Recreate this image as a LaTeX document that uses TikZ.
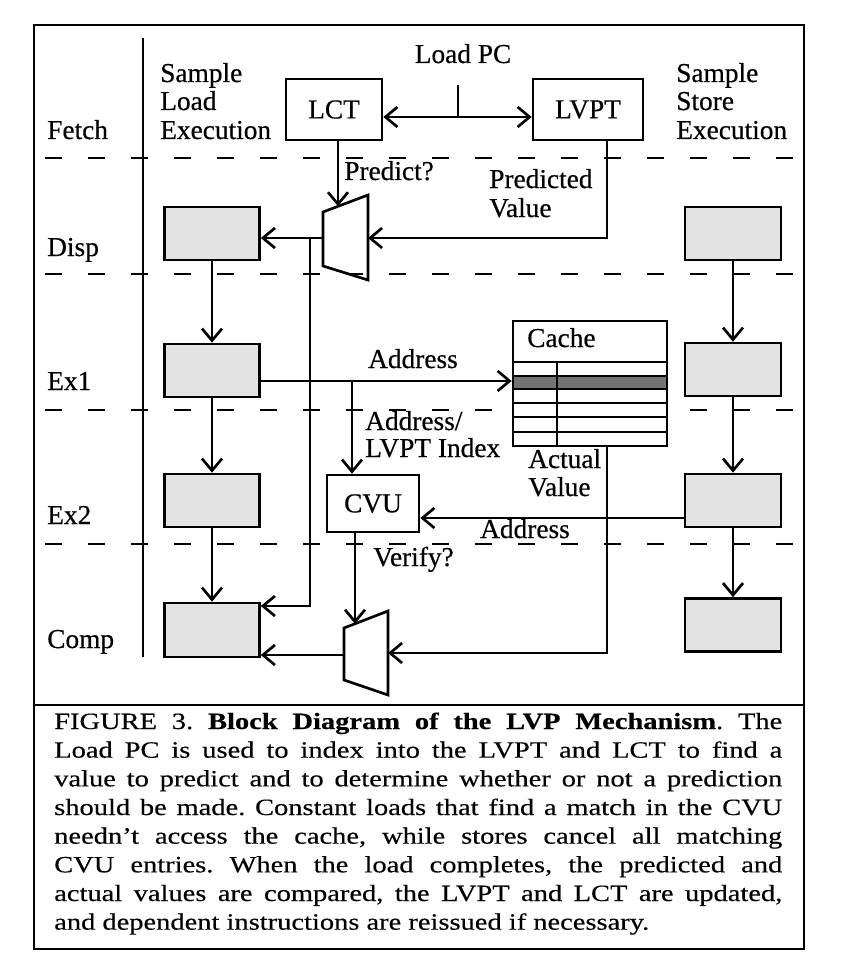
\documentclass[tikz,border=0pt]{standalone}
\usepackage{fontspec}
\setmainfont{Liberation Serif}[FakeBold=0.5]
\newfontfamily\capfont{Liberation Serif}[FakeStretch=1.22,FakeBold=0.4]
\usetikzlibrary{arrows.meta}

\newcommand\lblsize{\fontsize{20.5pt}{24pt}\selectfont}

\tikzset{
  wire/.style={line width=2pt, line join=miter},
  arr/.style={wire, -{Straight Barb[length=9pt,width=15pt]}},
  darr/.style={wire, {Straight Barb[length=9pt,width=15pt]}-{Straight Barb[length=9pt,width=15pt]}},
  lbl/.style={font=\lblsize, inner sep=0pt, anchor=base west},
  stage/.style={draw, line width=2pt, fill=black!11, minimum height=39.75pt, inner sep=0pt},
  ldbox/.style={stage, minimum width=71.25pt},
  stbox/.style={stage, minimum width=72pt},
  unit/.style={draw, line width=2pt, fill=white, font=\lblsize, inner sep=0pt},
  pipeline/.style={line width=1.5pt, dash pattern=on 12.75pt off 19.5pt},
  frame/.style={line width=1.6pt},
  cacherow/.style={line width=1.6pt},
}

\begin{document}
\begin{tikzpicture}[x=0.75pt,y=-0.75pt]
\fill[white] (0,0) rectangle (844,963);
\useasboundingbox (0,0) rectangle (844,963);

% outer frame and caption rule
\draw[frame] (34,25) rectangle (804,949);
\draw[frame] (34,705) -- (804,705);

% pipeline stage boundaries and label column
\foreach \yy in {158,274,410,544} \draw[pipeline] (45,\yy) -- (795,\yy);
\draw[wire] (143,38) -- (143,657);

% stage names
\node[lbl] (fetch) at (47,139) {Fetch};
\node[lbl] (disp)  at (47,256) {Disp};
\node[lbl] (exa)   at (47,390) {Ex1};
\node[lbl] (exb)   at (47,524) {Ex2};
\node[lbl] (comp)  at (47,648) {Comp};

% column headings
\node[lbl] (sl1) at (160,82)  {Sample};
\node[lbl] (sl2) at (160,110) {Load};
\node[lbl] (sl3) at (160,139) {Execution};
\node[lbl] (ss1) at (676,82)  {Sample};
\node[lbl] (ss2) at (676,110) {Store};
\node[lbl] (ss3) at (676,139) {Execution};

% prediction tables indexed by the load PC
\node[unit, minimum width=72pt, minimum height=45.75pt] (lct) at (334,109.5) {LCT};
\node[unit, minimum width=82.5pt, minimum height=45.75pt] (lvpt) at (588,109.5) {LVPT};
\node[lbl, anchor=base] (loadpc) at (463,63) {Load PC};
\coordinate (pc) at (458,85);
\coordinate (pcj) at (458,117);
\draw[wire] (pc) -- (pcj);
\draw[darr] (lct.east |- pcj) -- (lvpt.west |- pcj);

% prediction multiplexer
\coordinate (m1a) at (323,212);
\coordinate (m1b) at (368,195);
\coordinate (m1c) at (368,280);
\coordinate (m1d) at (323,266);
\draw[wire] (m1a) -- (m1b) -- (m1c) -- (m1d) -- cycle;
\coordinate (m1sel) at (338,206.3);
\coordinate (m1in) at (368,238);
\coordinate (m1out) at (323,238);
\coordinate (pvx) at (607,238);
\draw[arr] (lct.south -| m1sel) -- (m1sel);
\draw[arr] (lvpt.south -| pvx) -- (pvx) -- (m1in);
\node[lbl] (predq) at (344,180) {Predict?};
\node[lbl] (pv1) at (489,188) {Predicted};
\node[lbl] (pv2) at (489,217) {Value};

% load pipeline
\node[ldbox] (ld1) at (212,233.5) {};
\node[ldbox] (ld2) at (212,370.5) {};
\node[ldbox] (ld3) at (212,500.5) {};
\node[ldbox, minimum height=40.5pt] (ld4) at (212,630) {};
\draw[arr] (ld1.south) -- (ld2.north);
\draw[arr] (ld2.south) -- (ld3.north);
\draw[arr] (ld3.south) -- (ld4.north);

% store pipeline
\node[stbox] (st1) at (733,233.5) {};
\node[stbox] (st2) at (733,369.5) {};
\node[stbox] (st3) at (733,500.5) {};
\node[stbox] (st4) at (733,625) {};
\draw[arr] (st1.south) -- (st2.north);
\draw[arr] (st2.south) -- (st3.north);
\draw[arr] (st3.south) -- (st4.north);

% predicted value forwarded to dependents and to completion
\draw[arr] (m1out) -- (ld1.east |- m1out);
\coordinate (byp) at (310,238);
\coordinate (bypd) at (310,606);
\draw[arr] (byp) -- (bypd) -- (ld4.east |- bypd);

% data cache
\node[draw, fill=white, line width=2pt, minimum width=115.5pt, minimum height=93.75pt, inner sep=0pt] (cache) at (590,383.5) {};
\fill[black!55] (514.3,376) rectangle (665.7,389);
\foreach \yy in {362,376,389,403,417,432} \draw[cacherow] (513,\yy) -- (667,\yy);
\draw[cacherow] (557,362) -- (557,446);
\node[lbl] (cachet) at (527,347) {Cache};

% constant verification unit
\node[unit, minimum width=69pt, minimum height=42.75pt] (cvu) at (373,503.5) {CVU};

% load address to cache and CVU
\coordinate (adr) at (352,381);
\draw[arr] (ld2.east |- adr) -- (cache.west |- adr);
\draw[arr] (adr) -- (cvu.north -| adr);
\node[lbl, anchor=base] (addra) at (413,368) {Address};
\node[lbl] (ai1) at (365,430) {Address/};
\node[lbl] (ai2) at (365,457) {LVPT Index};

% store address cancels CVU entries
\coordinate (sadr) at (686,518);
\draw[arr] (st3.west |- sadr) -- (cvu.east |- sadr);
\node[lbl, anchor=base] (addrb) at (525,538) {Address};

% verification multiplexer
\coordinate (m2a) at (344,628);
\coordinate (m2b) at (388,611);
\coordinate (m2c) at (388,695);
\coordinate (m2d) at (344,680);
\draw[wire] (m2a) -- (m2b) -- (m2c) -- (m2d) -- cycle;
\coordinate (m2sel) at (355,623.8);
\coordinate (m2in) at (388,653);
\coordinate (m2out) at (344,655);
\draw[arr] (cvu.south -| m2sel) -- (m2sel);
\draw[arr] (m2out) -- (ld4.east |- m2out);
\node[lbl] (verify) at (373,566) {Verify?};

% actual value from the cache
\coordinate (avx) at (607,653);
\draw[arr] (cache.south -| avx) -- (avx) -- (m2in);
\node[lbl] (act1) at (528,468) {Actual};
\node[lbl] (act2) at (528,496) {Value};

% caption
\node[anchor=base west, inner sep=0pt] (caption) at (54,729) {\capfont\fontsize{17.5pt}{21.5pt}\selectfont\frenchspacing\vtop{\hsize=546pt
  \hbox to\hsize{FIGURE 3. \textbf{Block Diagram of the LVP Mechanism}. The}
  \hbox to\hsize{Load PC is used to index into the LVPT and LCT to find a}
  \hbox to\hsize{value to predict and to determine whether or not a prediction}
  \hbox to\hsize{should be made. Constant loads that find a match in the CVU}
  \hbox to\hsize{needn’t access the cache, while stores cancel all matching}
  \hbox to\hsize{CVU entries. When the load completes, the predicted and}
  \hbox to\hsize{actual values are compared, the LVPT and LCT are updated,}
  \hbox to\hsize{and dependent instructions are reissued if necessary.\hfil}}};
\end{tikzpicture}
\end{document}
